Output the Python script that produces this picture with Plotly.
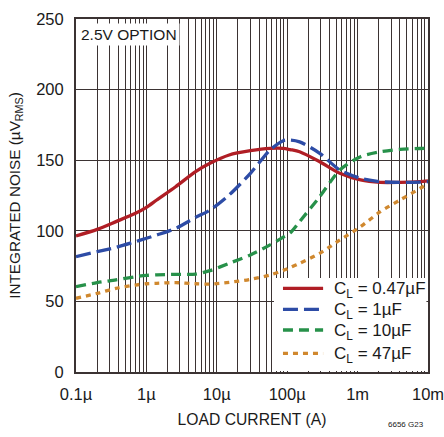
import plotly.graph_objects as go

# Load current (A) and integrated noise (µV RMS) for each output capacitor
load_current = [1e-7, 2e-7, 3.7e-7, 7e-7, 1e-6, 1.4e-6, 2.6e-6, 5e-6, 8e-6, 1.5e-5,
                3e-5, 5.7e-5, 8.8e-5, 1.1e-4, 1.5e-4, 2.9e-4, 5.6e-4, 1.1e-3,
                2.1e-3, 4e-3, 7.7e-3, 1e-2]
noise_047uF = [96.3, 101, 106.5, 112.4, 116.6, 121.8, 131.2, 141.9, 147.8, 153.7,
               156.7, 158.4, 158.4, 157.5, 156, 148.9, 140.7, 136, 134.3, 134.3,
               134.8, 135.3]
noise_1uF = [81.7, 85.2, 88.3, 92.3, 94.7, 97, 101.7, 109.5, 114.7, 125.4,
             140.7, 157.2, 163.8, 164.3, 163, 154.9, 143, 137.2, 134.8, 134.3,
             134.5, 134.8]
noise_10uF = [60.4, 63.3, 65.2, 67.5, 68.4, 68.8, 69.2, 69.3, 71.8, 77,
              82.9, 90, 95.5, 98.5, 106.5, 124.2, 143, 152.5, 156, 157.7,
              158.3, 158.4]
noise_47uF = [52.2, 55.7, 59.3, 61.6, 62.5, 62.8, 63.3, 62.5, 62.3, 63.5,
              65.6, 68.7, 72, 73.9, 77, 84, 93.5, 102.9, 113.5, 121.8,
              130, 133.6]

series_names = ["C<sub>L</sub> = 0.47µF", "C<sub>L</sub> = 1µF",
                "C<sub>L</sub> = 10µF", "C<sub>L</sub> = 47µF"]
series_values = [noise_047uF, noise_1uF, noise_10uF, noise_47uF]
series_colors = ["#b01e25", "#2d4ca6", "#27914a", "#d0882e"]
series_dash = ["solid", "15px,6px", "10px,6px", "5px,5px"]

decade_vals = [1e-7, 1e-6, 1e-5, 1e-4, 1e-3, 1e-2]
decade_text = ["0.1µ", "1µ", "10µ", "100µ", "1m", "10m"]
y_ticks = [0, 50, 100, 150, 200, 250]

FONT = "Liberation Sans, Arial, sans-serif"
INK = "#1a1a1a"
GRID = "#3b3333"

# every 1..9 multiple in each decade gets a grid line; only decades are labelled
grid_vals, grid_text = [], []
for i, d in enumerate(decade_vals):
    for m in range(1, 10):
        v = d * m
        if v > decade_vals[-1] * 1.0001:
            break
        grid_vals.append(v)
        grid_text.append(decade_text[i] if m == 1 else "")

fig = go.Figure()
for name, vals, color, dash in zip(series_names, series_values, series_colors, series_dash):
    fig.add_trace(go.Scatter(
        x=load_current, y=vals, name=name, mode="lines", showlegend=False,
        line=dict(color=color, width=3.3, dash=dash, shape="spline", smoothing=0.8),
    ))

fig.update_layout(
    width=444, height=437,
    margin=dict(l=76, r=16, t=19, b=65),
    paper_bgcolor="white", plot_bgcolor="white",
    font=dict(family=FONT, size=16, color=INK),
    showlegend=False,
    xaxis=dict(
        type="log", range=[-7, -2], automargin=False,
        tickvals=grid_vals, ticktext=grid_text,
        tickfont=dict(family=FONT, size=16.5, color=INK),
        ticklabeloverflow="allow",
        showgrid=True, gridcolor=GRID, gridwidth=1,
        showline=True, linecolor=GRID, linewidth=2, mirror=True,
        ticks="", ticklabelstandoff=6,
        title=dict(text="LOAD CURRENT (A)", standoff=12,
                   font=dict(family=FONT, size=15.7, color=INK)),
        zeroline=False,
    ),
    yaxis=dict(
        range=[0, 250], tickvals=y_ticks, automargin=False,
        tickfont=dict(family=FONT, size=16.5, color=INK),
        showgrid=True, gridcolor=GRID, gridwidth=1,
        showline=True, linecolor=GRID, linewidth=2, mirror=True,
        ticks="", ticklabelstandoff=7,
        title=dict(text="INTEGRATED NOISE (µV<sub>RMS</sub>)", standoff=12,
                   font=dict(family=FONT, size=15.3, color=INK)),
        zeroline=False,
    ),
)

# Legend panel in the lower-right corner of the plot
fig.add_shape(type="rect", xref="paper", yref="paper",
              x0=0.5625, x1=0.9955, y0=0.003, y1=0.266,
              fillcolor="white", line=dict(width=0), layer="above")
legend_rows = [0.237, 0.1776, 0.119, 0.053]
for name, color, dash, yr in zip(series_names, series_colors, series_dash, legend_rows):
    fig.add_shape(type="line", xref="paper", yref="paper",
                  x0=0.588, x1=0.702, y0=yr, y1=yr, layer="above",
                  line=dict(color=color, width=3.3, dash=dash))
    fig.add_annotation(text=name, xref="paper", yref="paper", x=0.727, y=yr,
                       xanchor="left", yanchor="middle", yshift=-2, showarrow=False,
                       font=dict(family=FONT, size=17, color=INK))

fig.add_annotation(
    text="2.5V OPTION", xref="paper", yref="paper", x=0.006, y=0.99,
    xanchor="left", yanchor="top", showarrow=False,
    bgcolor="white", borderpad=2,
    font=dict(family=FONT, size=15.5, color=INK),
)
fig.add_annotation(
    text="6656 G23", xref="paper", yref="paper", x=0.995, y=-0.13,
    xanchor="right", yanchor="top", showarrow=False,
    font=dict(family=FONT, size=8, color=INK),
)

fig.write_html("out.html")
